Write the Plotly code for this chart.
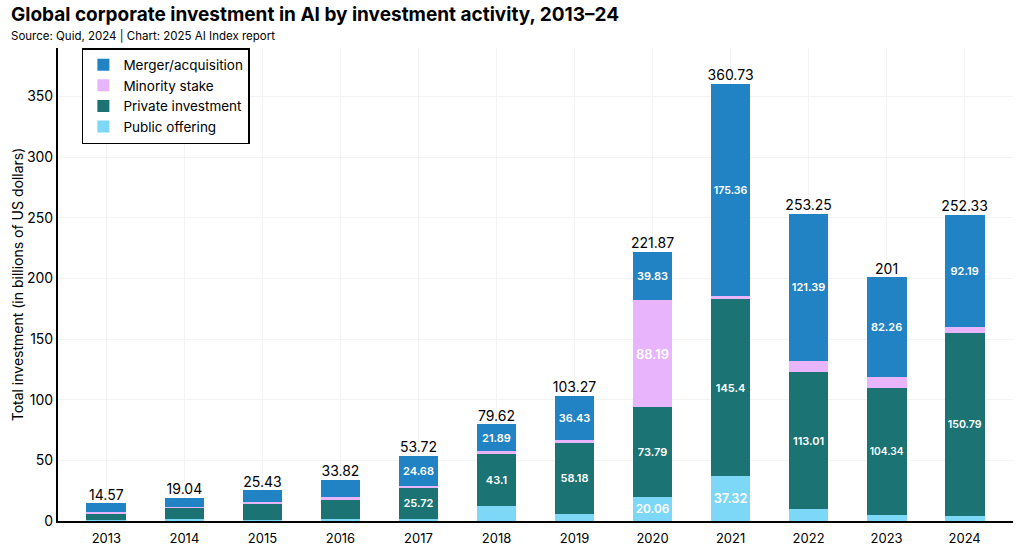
import plotly.graph_objects as go

years = ["2013", "2014", "2015", "2016", "2017", "2018", "2019", "2020", "2021", "2022", "2023", "2024"]

public_offering = [1.0, 1.5, 1.0, 1.5, 1.6, 12.3, 6.1, 20.06, 37.32, 9.5, 5.2, 4.5]
private_investment = [5.4, 9.3, 13.7, 16.5, 25.72, 43.1, 58.18, 73.79, 145.4, 113.01, 104.34, 150.79]
minority_stake = [1.3, 0.5, 1.2, 1.5, 1.72, 2.33, 2.56, 88.19, 2.65, 9.35, 9.2, 4.85]
merger_acquisition = [6.87, 7.74, 9.53, 14.32, 24.68, 21.89, 36.43, 39.83, 175.36, 121.39, 82.26, 92.19]
totals = [14.57, 19.04, 25.43, 33.82, 53.72, 79.62, 103.27, 221.87, 360.73, 253.25, 201, 252.33]

FONT = "Inter"

def seg_labels(vals):
    # only label the bigger segments, like the original
    return [f"{v:g}" if v >= 20 else "" for v in vals]

def seg_sizes(vals):
    return [13 if v in (20.06, 37.32, 88.19) else 11 for v in vals]

series = [
    ("Public offering", public_offering, "#7dd8f7"),
    ("Private investment", private_investment, "#1b7373"),
    ("Minority stake", minority_stake, "#e8b4fb"),
    ("Merger/acquisition", merger_acquisition, "#2283c4"),
]

fig = go.Figure()
for name, vals, color in series:
    fig.add_trace(go.Bar(
        x=years, y=vals, name=name,
        marker=dict(color=color, line=dict(width=0)),
        text=seg_labels(vals),
        textposition="inside",
        insidetextanchor="middle",
        textangle=0,
        textfont=dict(color="white", size=seg_sizes(vals), family=FONT, weight=600),
        cliponaxis=False,
    ))

# totals on top of each stack
fig.add_trace(go.Scatter(
    x=years, y=totals, mode="text",
    text=[f"{t:g}" for t in totals],
    textposition="top center",
    textfont=dict(color="black", size=14, family=FONT),
    showlegend=False, hoverinfo="skip", cliponaxis=False,
))

fig.update_layout(
    width=1024, height=554,
    barmode="stack",
    bargap=0.49,
    plot_bgcolor="white", paper_bgcolor="white",
    font=dict(family=FONT, color="black", size=14),
    margin=dict(l=58, r=11, t=48, b=33),
    legend=dict(
        x=0.025, y=1.0, xanchor="left", yanchor="top",
        traceorder="reversed",
        bordercolor="black", borderwidth=1.5,
        bgcolor="white",
        font=dict(size=13.5, family=FONT),
    ),
    xaxis=dict(
        range=[-0.62, 11.62],
        showline=True, linecolor="black", linewidth=2,
        showgrid=True, gridcolor="#f3f3f3",
        ticks="", tickfont=dict(size=13),
        ticklabelstandoff=4, automargin=False,
    ),
    yaxis=dict(
        range=[0, 390],
        dtick=50,
        showline=True, linecolor="black", linewidth=2,
        showgrid=True, gridcolor="#f3f3f3",
        zeroline=False, automargin=False,
        ticks="", tickfont=dict(size=14),
        title=dict(text="Total investment (in billions of US dollars)", font=dict(size=14), standoff=0),
    ),
    annotations=[
        dict(text="<b>Global corporate investment in AI by investment activity, 2013–24</b>",
             xref="paper", yref="paper", x=-0.051, y=1.071, xanchor="left", yanchor="middle",
             showarrow=False, font=dict(size=19, family=FONT)),
        dict(text="Source: Quid, 2024 | Chart: 2025 AI Index report",
             xref="paper", yref="paper", x=-0.051, y=1.025, xanchor="left", yanchor="middle",
             showarrow=False, font=dict(size=11.5, family=FONT)),
    ],
)

# drop the default 8px page margin so the figure fills the window
fig.write_html("out.html", config={"displayModeBar": False},
               post_script="document.body.style.margin='0';")
